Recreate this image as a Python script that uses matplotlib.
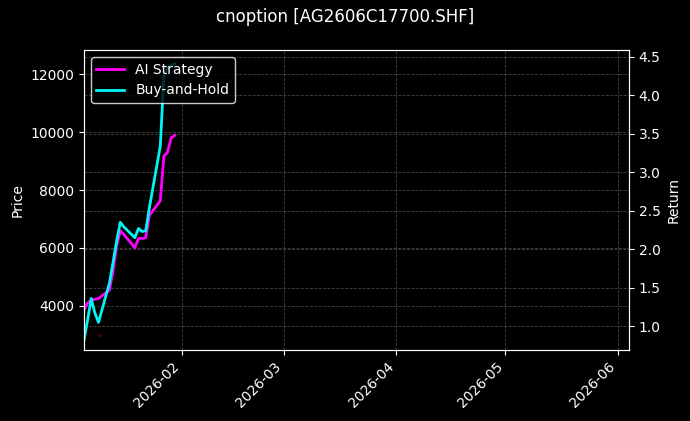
import matplotlib.pyplot as plt
import matplotlib.dates as mdates
import pandas as pd

plt.style.use('dark_background')

# trading days shown in the chart
dates = pd.to_datetime([
    '2026-01-05', '2026-01-06', '2026-01-07', '2026-01-08', '2026-01-09',
    '2026-01-12', '2026-01-13', '2026-01-14', '2026-01-15', '2026-01-16',
    '2026-01-19', '2026-01-20', '2026-01-21', '2026-01-22', '2026-01-23',
    '2026-01-26', '2026-01-27', '2026-01-28', '2026-01-29', '2026-01-30',
])

ai_return = [1.21, 1.30, 1.34, 1.35, 1.36,
             1.47, 1.72, 2.05, 2.24, 2.19,
             2.02, 2.14, 2.14, 2.15, 2.44,
             2.63, 3.21, 3.26, 3.45, 3.48]

bh_return = [0.82, 1.08, 1.36, 1.17, 1.05,
             1.56, 1.83, 2.11, 2.35, 2.29,
             2.15, 2.27, 2.23, 2.24, 2.54,
             3.34, 4.25, 4.36, 4.39, 4.41]

# lone trade marker on the price axis
trade_date = pd.to_datetime(['2026-01-09'])
trade_price = [3000]

fig = plt.figure(figsize=(6.9, 4.21), dpi=100)
fig.patch.set_facecolor('black')
ax1 = fig.add_axes([0.1217, 0.1686, 0.7899, 0.7126])
ax1.set_facecolor('black')

ax1.scatter(trade_date, trade_price, s=2, color='#4a0008', zorder=1)
ax1.set_ylabel('Price')
ax1.set_ylim(2480, 12830)
ax1.set_yticks([4000, 6000, 8000, 10000, 12000])
ax1.grid(True, linestyle='--', linewidth=0.6, color='gray', alpha=0.5)

ax2 = ax1.twinx()
ax2.plot(dates, ai_return, color='#ff00ff', lw=2, label='AI Strategy')
ax2.plot(dates, bh_return, color='#00f5f5', lw=2, label='Buy-and-Hold')
ax2.set_ylabel('Return')
ax2.set_ylim(0.69, 4.59)
ax2.set_yticks([1.0, 1.5, 2.0, 2.5, 3.0, 3.5, 4.0, 4.5])
ax2.grid(True, axis='y', linestyle='--', linewidth=0.6, color='gray', alpha=0.5)

ax1.set_xlim(pd.Timestamp('2026-01-05'), pd.Timestamp('2026-06-04'))
ax1.xaxis.set_major_locator(mdates.MonthLocator())
ax1.xaxis.set_major_formatter(mdates.DateFormatter('%Y-%m'))
for lbl in ax1.get_xticklabels():
    lbl.set_rotation(45)
    lbl.set_ha('right')

leg = ax2.legend(loc='upper left', facecolor='black', edgecolor='white', framealpha=0.8)

fig.suptitle('cnoption [AG2606C17700.SHF]', fontsize=12, y=0.982)

fig.savefig('out.png', dpi=100, facecolor='black')
